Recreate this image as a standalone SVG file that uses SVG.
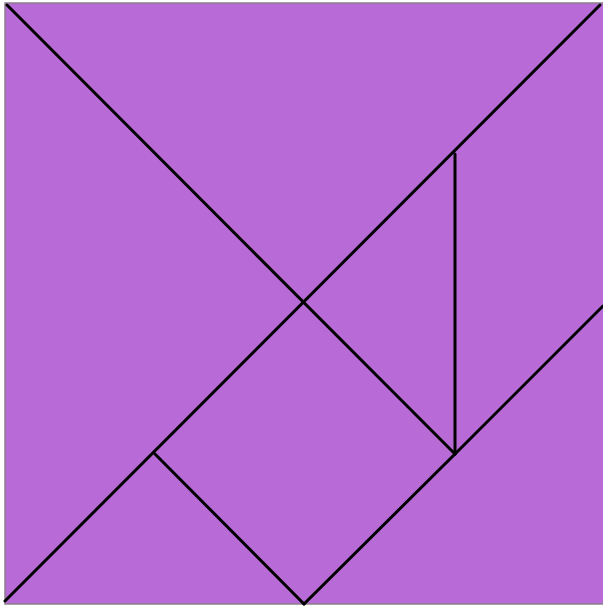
<svg xmlns="http://www.w3.org/2000/svg" width="603" height="609" viewBox="0 0 603 609">
<style>
.p{fill:#b86bd6}
.l{stroke:#000;stroke-width:3;fill:none;stroke-linecap:round;stroke-linejoin:round}
</style>
<rect width="603" height="609" fill="#fff"/>
<rect x="5" y="3" width="600" height="601" class="p" stroke="#8a7f8c" stroke-width="1.5"/>
<g class="l">
<line x1="7" y1="5" x2="455" y2="454"/>
<line x1="600" y1="5" x2="5" y2="601"/>
<line x1="455" y1="154" x2="455" y2="454"/>
<line x1="455" y1="454" x2="603" y2="306"/>
<line x1="455" y1="454" x2="304" y2="604"/>
<line x1="155" y1="454" x2="304" y2="604"/>
</g>
</svg>
